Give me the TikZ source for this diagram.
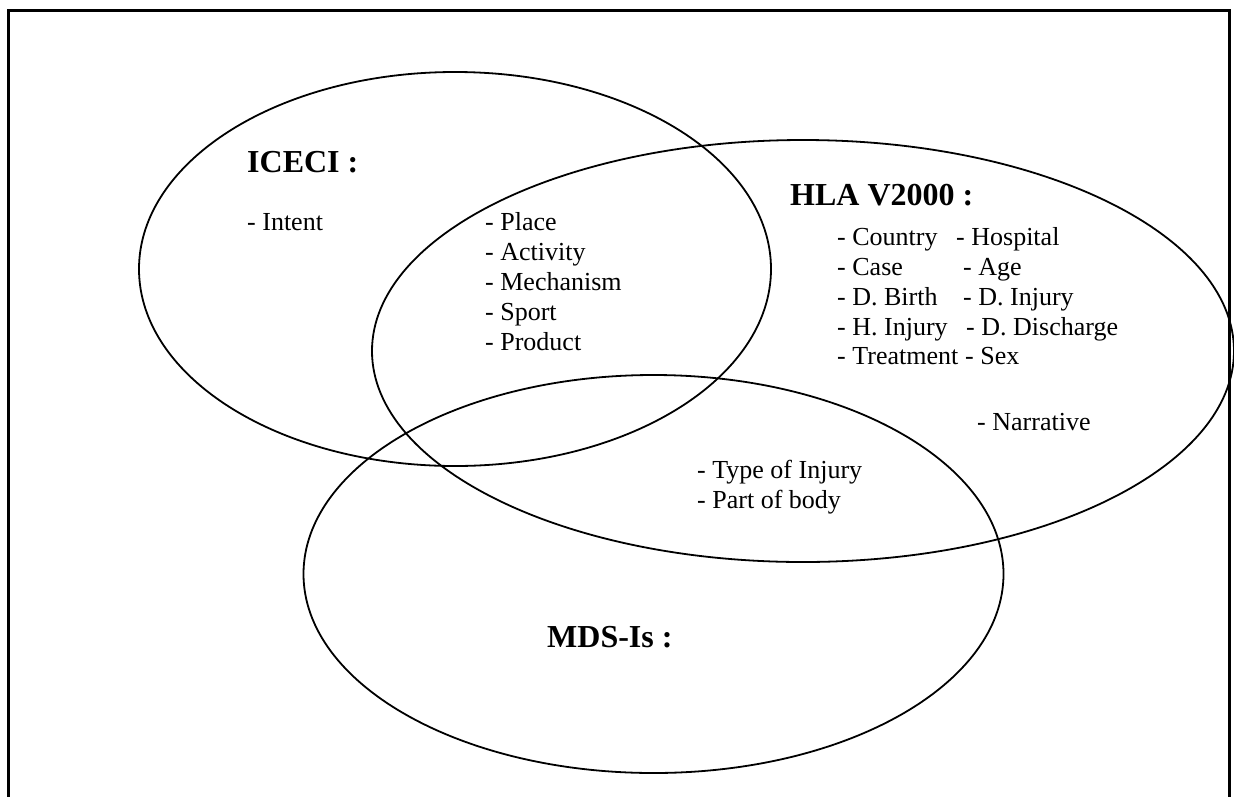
\documentclass[tikz,border=0pt]{standalone}
\usepackage{fontspec}
\setmainfont{Liberation Serif}
\begin{document}
\begin{tikzpicture}[x=1pt,y=-1pt,
  set/.style={draw=black,line width=1.8pt},
  frame/.style={draw=black,line width=3pt},
  head/.style={anchor=base west,inner sep=0pt,font=\fontsize{32}{36}\selectfont\bfseries},
  item/.style={anchor=base west,inner sep=0pt,font=\fontsize{26}{30}\selectfont},
  list/.style={anchor=base west,inner sep=0pt,font=\fontsize{26}{30}\selectfont,align=left}]
\useasboundingbox (0,0) rectangle (1234,796);
\fill[white] (0,0) rectangle (1234,796);
\draw[frame] (8,797) -- (8,10) -- (1229,10) -- (1229,797);
% sets
\draw[set] (455,269) ellipse [x radius=316, y radius=197];
\draw[set] (803,351) ellipse [x radius=431, y radius=211];
\draw[set] (653.5,574) ellipse [x radius=350, y radius=199];
% ICECI
\node[head] (iceci) at (247,172) {ICECI :};
\node[item] (intent) at (247,230) {- Intent};
\node[item] (place) at (485,230) {- Place};
\node[item] (activity) at (485,260) {- Activity};
\node[item] (mechanism) at (485,290) {- Mechanism};
\node[item] (sport) at (485,320) {- Sport};
\node[item] (product) at (485,350) {- Product};
% HLA
\node[head] (hla) at (790,205) {HLA V2000 :};
\node[item] (country) at (837,245) {- Country};
\node[item] (case) at (837,275) {- Case};
\node[item] (dbirth) at (837,305) {- D. Birth};
\node[item] (hinjury) at (837,335) {- H. Injury};
\node[item] (treatment) at (837,364) {- Treatment};
\node[item] (hospital) at (956,245) {- Hospital};
\node[item] (age) at (963,275) {- Age};
\node[item] (dinjury) at (963,305) {- D. Injury};
\node[item] (ddischarge) at (966,335) {- D. Discharge};
\node[item] (sex) at (965,364) {- Sex};
\node[item] (narrative) at (977,430) {- Narrative};
% shared HLA / MDS
\node[item] (typeinj) at (697,478) {- Type of Injury};
\node[item] (partbody) at (697,508) {- Part of body};
% MDS
\node[head] (mds) at (547,647) {MDS-Is :};
\end{tikzpicture}
\end{document}
